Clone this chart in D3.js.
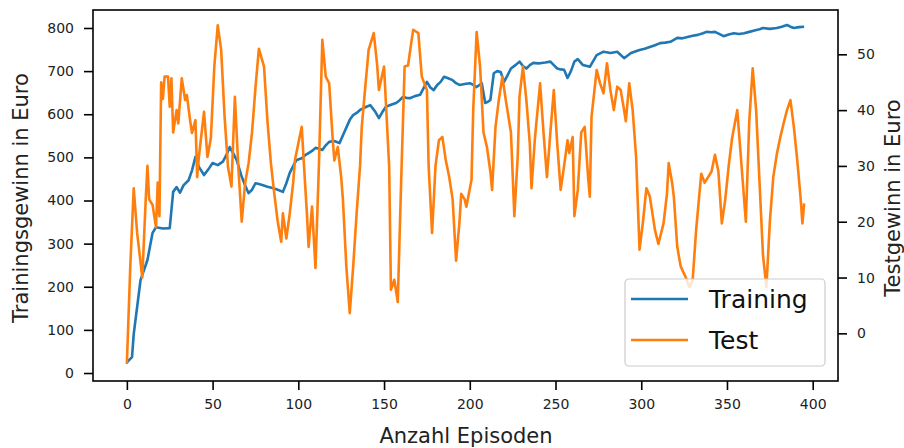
<!DOCTYPE html>
<html>
<head>
<meta charset="utf-8">
<script src="https://cdn.jsdelivr.net/npm/d3@7"></script>
<style>
  body { margin: 0; background: #fff; }
  text { font-family: "DejaVu Sans", sans-serif; }
</style>
</head>
<body>
<div id="chart"></div>
<script>
// episode numbers and values
const trainEpisodes = [0, 3, 4, 7, 8, 12, 15, 17, 21, 25, 27, 29, 31, 33, 36, 38, 40, 42, 45, 48, 50, 53, 56, 58, 60, 62, 64, 67, 69, 71, 73, 75, 77, 79, 82, 85, 88, 91, 93, 95, 97, 99, 102, 104, 106, 108, 110, 112, 114, 116, 118, 121, 124, 127, 130, 132, 134, 136, 138, 140, 142, 145, 147, 149, 151, 154, 157, 159, 161, 163, 165, 168, 171, 173, 175, 177, 179, 181, 183, 185, 187, 190, 192, 194, 197, 200, 202, 204, 207, 209, 211, 212, 214, 216, 218, 220, 222, 224, 227, 229, 231, 233, 235, 237, 240, 242, 244, 247, 249, 251, 253, 255, 257, 259, 261, 263, 266, 270, 274, 278, 282, 286, 290, 294, 299, 302, 305, 308, 311, 314, 317, 321, 324, 327, 330, 333, 336, 338, 341, 343, 346, 348, 351, 354, 357, 360, 363, 366, 369, 371, 375, 379, 382, 385, 387, 389, 392, 395];
const trainValues = [25, 37, 90, 185, 216, 262, 325, 338, 335, 336, 420, 431, 418, 435, 447, 470, 501, 478, 459, 475, 487, 482, 490, 505, 524, 510, 494, 455, 435, 417, 425, 440, 438, 436, 432, 429, 425, 420, 440, 464, 480, 494, 498, 505, 510, 515, 522, 520, 517, 528, 536, 538, 533, 560, 587, 598, 603, 610, 614, 618, 621, 605, 591, 605, 617, 622, 626, 632, 640, 638, 637, 642, 645, 660, 675, 662, 656, 668, 675, 687, 684, 679, 672, 668, 670, 672, 668, 663, 672, 626, 630, 633, 695, 700, 698, 675, 690, 706, 715, 722, 712, 706, 714, 719, 718, 719, 720, 722, 714, 706, 704, 703, 684, 700, 722, 728, 714, 710, 737, 745, 742, 745, 730, 742, 749, 752, 756, 760, 765, 766, 768, 777, 776, 779, 782, 784, 788, 791, 790, 791, 785, 781, 785, 788, 786, 788, 791, 794, 797, 800, 798, 800, 803, 807, 803, 800, 802, 803];

const testEpisodes = [0, 2, 4, 6, 9, 11, 12, 13, 15, 17, 18, 19, 20, 21, 22, 24, 25, 26, 27, 29, 30, 32, 34, 35, 37, 38, 40, 41, 42, 45, 47, 49, 51, 53, 55, 57, 59, 61, 63, 65, 67, 69, 71, 73, 75, 77, 80, 82, 84, 86, 88, 90, 91, 93, 95, 97, 98, 100, 102, 103, 105, 106, 108, 110, 112, 114, 116, 118, 120, 121, 123, 125, 126, 128, 130, 132, 134, 136, 137, 139, 141, 144, 146, 147, 150, 151, 153, 154, 156, 158, 160, 162, 164, 165, 167, 170, 172, 175, 176, 178, 180, 182, 184, 186, 188, 190, 192, 194, 195, 197, 198, 201, 202, 204, 206, 208, 210, 212, 213, 215, 217, 219, 221, 224, 226, 228, 229, 231, 233, 235, 236, 238, 241, 243, 245, 247, 249, 251, 253, 255, 257, 258, 260, 261, 263, 265, 267, 269, 270, 271, 274, 276, 278, 280, 282, 284, 286, 288, 290, 291, 293, 295, 297, 299, 301, 303, 305, 308, 310, 313, 315, 316, 318, 319, 321, 323, 326, 328, 330, 332, 335, 337, 339, 341, 343, 345, 347, 349, 351, 353, 356, 358, 361, 363, 365, 367, 369, 371, 373, 375, 377, 379, 381, 383, 385, 387, 389, 391, 393, 394, 395];
const testValues = [-5.5, 12, 26, 18, 10, 24, 30, 24, 23, 19, 27, 21, 45, 42, 46, 46, 40.6, 45.7, 36, 40, 37.6, 45.7, 41.8, 42.7, 37.9, 35.9, 38.2, 28, 31.6, 39.7, 31.6, 35, 47.8, 55.2, 50.8, 38.8, 29.8, 26.3, 42.4, 29.8, 20, 27, 30.5, 36, 44, 51, 47.8, 38, 30.5, 25, 20, 16.4, 21.5, 17, 21.5, 27, 31, 34, 37, 31.6, 21.5, 15.5, 22.7, 11.7, 30, 52.6, 46, 44.8, 35, 31, 33.4, 28, 24, 12, 3.6, 12, 21.5, 30, 37, 44, 50.8, 53.8, 48, 43.6, 47.8, 41.8, 29.8, 7.8, 9.6, 5.6, 27.5, 47.8, 48, 50.2, 54.4, 53.8, 46, 43.6, 30, 18, 30, 34.6, 35.2, 31, 28, 24, 13, 20, 25, 24, 22.7, 27.5, 40, 54, 47.8, 36, 33.4, 29, 25.7, 37, 42, 46, 41.8, 36, 21, 32, 42.4, 47.8, 41.8, 34, 26, 35, 44.8, 36, 28, 36, 43.6, 34, 25.7, 30, 34.6, 32.3, 35.2, 21, 25.7, 36, 37, 28, 24.5, 38.8, 47.2, 44.8, 43, 48.4, 43.6, 40, 44.2, 43.6, 40, 38, 44.8, 40, 31.6, 15, 20, 26, 24.5, 18.5, 16, 19.7, 25, 30.5, 27, 24.5, 15.5, 12, 10, 8.3, 9.6, 18.5, 28.6, 27, 28, 29, 32, 29, 19.7, 24, 30, 35, 40, 32, 20, 38, 47.5, 40, 27, 14, 8.3, 20, 28, 32, 35, 37.6, 40, 41.8, 37, 31, 24, 19.7, 23.3];

const xTicks = [0, 50, 100, 150, 200, 250, 300, 350, 400];
const leftTicks = [0, 100, 200, 300, 400, 500, 600, 700, 800];
const rightTicks = [0, 10, 20, 30, 40, 50];
const seriesNames = ['Training', 'Test'];

const W = 904, H = 448;
const plot = { left: 93, right: 838, top: 10, bottom: 381 };
const blue = '#1f77b4', orange = '#ff7f0e';

const svg = d3.select('#chart').append('svg')
    .attr('width', W)
    .attr('height', H);

const x = d3.scaleLinear().domain([-19.75, 414.75]).range([plot.left, plot.right]);
const yL = d3.scaleLinear().domain([-18.5, 841.7]).range([plot.bottom, plot.top]);
const yR = d3.scaleLinear().domain([-8.54, 57.94]).range([plot.bottom, plot.top]);

function styleAxis(g) {
    g.select('.domain').remove();
    g.selectAll('.tick line').attr('stroke', '#000').attr('stroke-width', 1.6);
    g.selectAll('.tick text')
        .attr('fill', '#222')
        .style('font-size', '14px')
        .style('font-family', '"DejaVu Sans", sans-serif');
}

svg.append('g')
    .attr('transform', `translate(0, ${plot.bottom})`)
    .call(d3.axisBottom(x).tickValues(xTicks).tickSize(9).tickPadding(9))
    .call(styleAxis);

svg.append('g')
    .attr('transform', `translate(${plot.left}, 0)`)
    .call(d3.axisLeft(yL).tickValues(leftTicks).tickSize(9).tickPadding(10))
    .call(styleAxis);

svg.append('g')
    .attr('transform', `translate(${plot.right}, 0)`)
    .call(d3.axisRight(yR).tickValues(rightTicks).tickSize(9).tickPadding(10))
    .call(styleAxis);

svg.append('clipPath').attr('id', 'clip')
    .append('rect')
    .attr('x', plot.left).attr('y', plot.top)
    .attr('width', plot.right - plot.left)
    .attr('height', plot.bottom - plot.top);

const trainLine = d3.line()
    .x((d, i) => x(trainEpisodes[i]))
    .y(d => yL(d));

const testLine = d3.line()
    .x((d, i) => x(testEpisodes[i]))
    .y(d => yR(d));

svg.append('path')
    .attr('clip-path', 'url(#clip)')
    .attr('d', trainLine(trainValues))
    .attr('fill', 'none')
    .attr('stroke', blue)
    .attr('stroke-width', 2.6)
    .attr('stroke-linejoin', 'round');

svg.append('path')
    .attr('clip-path', 'url(#clip)')
    .attr('d', testLine(testValues))
    .attr('fill', 'none')
    .attr('stroke', orange)
    .attr('stroke-width', 2.6)
    .attr('stroke-linejoin', 'round');

// frame
svg.append('rect')
    .attr('x', plot.left).attr('y', plot.top)
    .attr('width', plot.right - plot.left)
    .attr('height', plot.bottom - plot.top)
    .attr('fill', 'none')
    .attr('stroke', '#000')
    .attr('stroke-width', 1.6);

// axis labels
svg.append('text')
    .attr('x', 466).attr('y', 443)
    .attr('text-anchor', 'middle')
    .style('font-size', '21px')
    .attr('fill', '#222')
    .text('Anzahl Episoden');

svg.append('text')
    .attr('transform', 'translate(28, 198) rotate(-90)')
    .attr('text-anchor', 'middle')
    .style('font-size', '21px')
    .attr('fill', '#222')
    .text('Trainingsgewinn in Euro');

svg.append('text')
    .attr('transform', 'translate(900, 198) rotate(-90)')
    .attr('text-anchor', 'middle')
    .style('font-size', '21px')
    .attr('fill', '#222')
    .text('Testgewinn in Euro');

// legend
const legend = svg.append('g').attr('transform', 'translate(625, 279)');
legend.append('rect')
    .attr('width', 200).attr('height', 87)
    .attr('rx', 4)
    .attr('fill', 'rgba(255,255,255,0.8)')
    .attr('stroke', '#cccccc')
    .attr('stroke-width', 1.2);

legend.selectAll('g.item')
    .data(seriesNames)
    .join('g')
    .attr('class', 'item')
    .attr('transform', (d, i) => `translate(0, ${20 + i * 41})`)
    .each(function(d, i) {
        const g = d3.select(this);
        g.append('line')
            .attr('x1', 6).attr('x2', 63)
            .attr('stroke', i === 0 ? blue : orange)
            .attr('stroke-width', 2.6);
        g.append('text')
            .attr('x', 84).attr('y', 9)
            .style('font-size', '25px')
            .attr('fill', '#111')
            .text(d);
    });
</script>
</body>
</html>
